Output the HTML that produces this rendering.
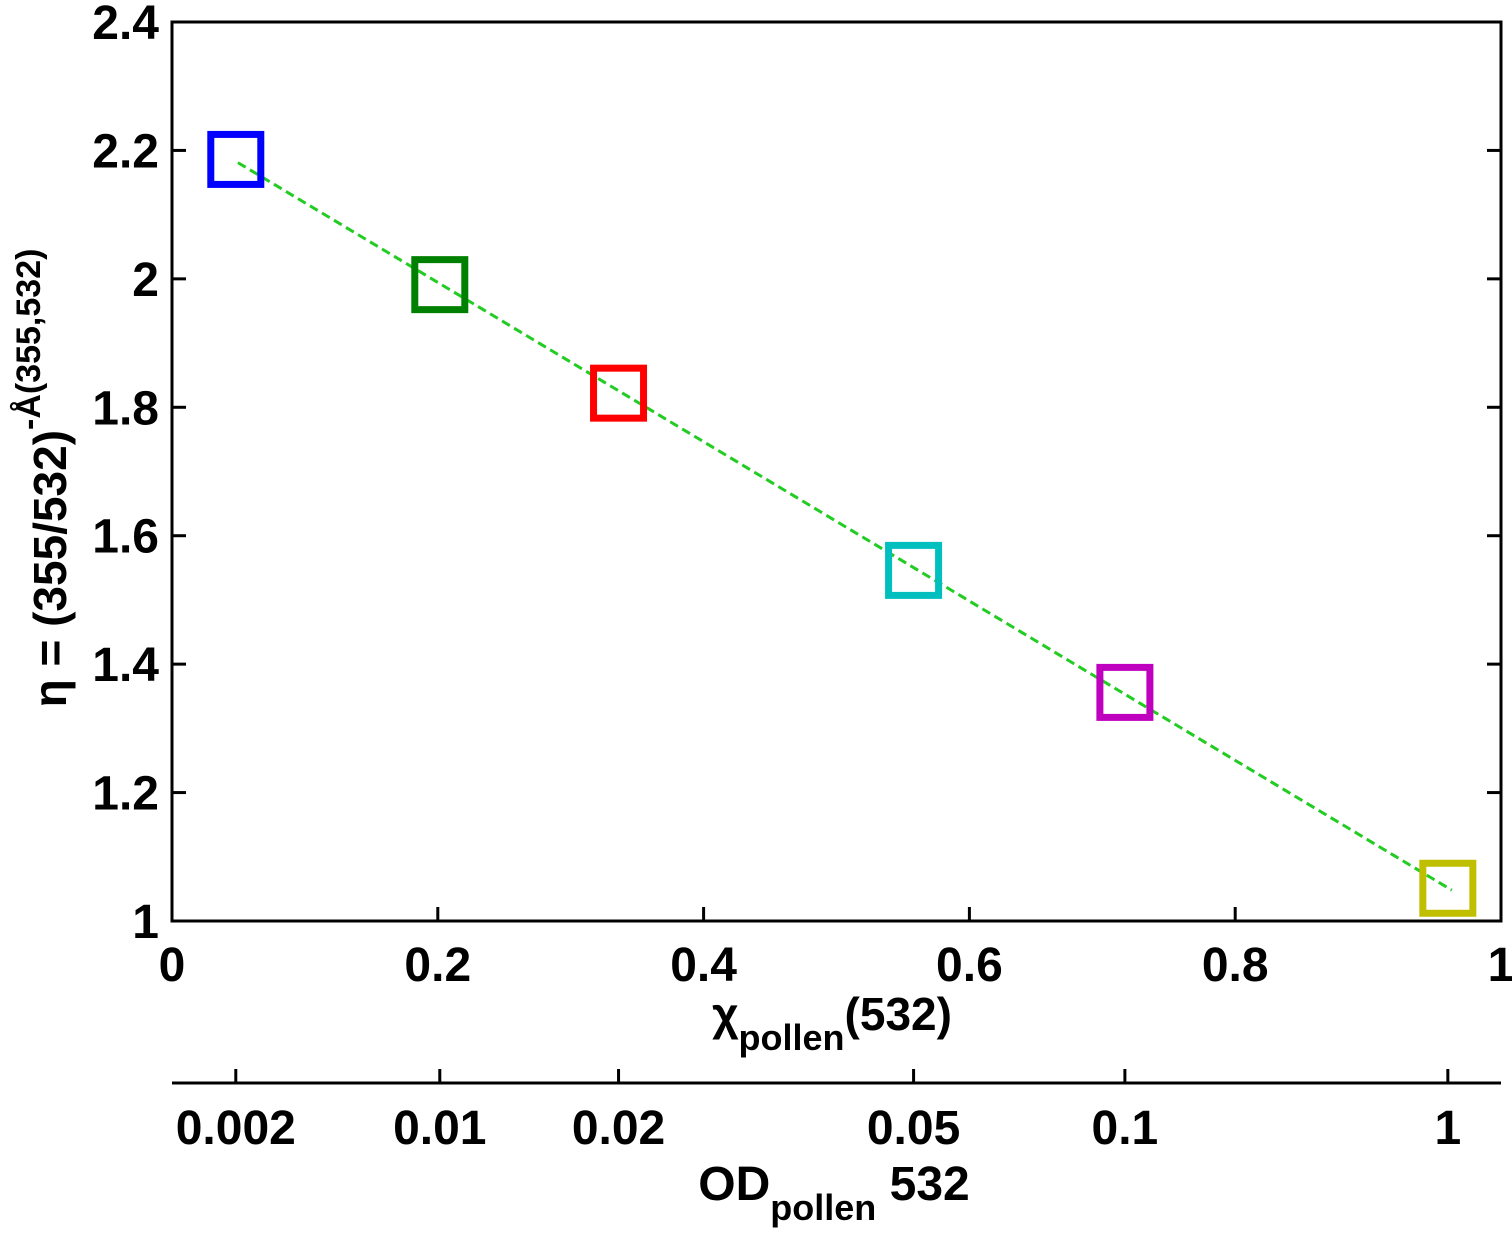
<!DOCTYPE html>
<html><head><meta charset="utf-8"><style>
body{margin:0;background:#fff}
svg{display:block;font-family:"Liberation Sans",sans-serif;font-weight:bold}
</style></head><body>
<svg id="chart" width="1512" height="1234" xmlns="http://www.w3.org/2000/svg">
<g id="axes"></g>
<g id="marks"></g>
<text x="832" y="1030" font-size="46" text-anchor="middle">χ<tspan font-size="36" dy="20">pollen</tspan><tspan dy="-20">(532)</tspan></text>
<text x="834" y="1200" font-size="48" text-anchor="middle">OD<tspan font-size="36" dy="20">pollen</tspan><tspan dy="-20"> 532</tspan></text>
<text transform="translate(66,478) rotate(-90)" font-size="46" text-anchor="middle">η = (355/532)<tspan font-size="34" dy="-26">-Å(355,532)</tspan></text>
</svg>
<script>
const xTicks=[0,0.2,0.4,0.6,0.8,1];
const yTicks=[1,1.2,1.4,1.6,1.8,2,2.2,2.4];
const xLabels=["0","0.2","0.4","0.6","0.8","1"];
const yLabels=["1","1.2","1.4","1.6","1.8","2","2.2","2.4"];
const ptX=[0.048,0.2015,0.336,0.558,0.717,0.960];
const ptY=[2.186,1.991,1.822,1.546,1.356,1.051];
const ptColors=["#0000ff","#008000","#ff0000","#00bfbf","#bf00bf","#bfbf00"];
const odLabels=["0.002","0.01","0.02","0.05","0.1","1"];
const fitX=[0.0496,0.963];
const fitY=[2.181,1.048];
const NS="http://www.w3.org/2000/svg";
const X0=172,X1=1501,Y0=921,Y1=22;
const sx=v=>X0+(v-0)/(1-0)*(X1-X0);
const sy=v=>Y0-(v-1)/(2.4-1)*(Y0-Y1);
const axes=document.getElementById('axes'),marks=document.getElementById('marks');
function mk(tag,at,parent){const e=document.createElementNS(NS,tag);for(const k in at)e.setAttribute(k,at[k]);parent.appendChild(e);return e;}
let r=mk('rect',{x:X0,y:Y1,width:X1-X0,height:Y0-Y1,fill:'none',stroke:'#000','stroke-width':3},axes);


xTicks.forEach((t,i)=>{
 const x=sx(t);
 let l=mk('line',{x1:x,x2:x,y1:Y0,y2:Y0-14,stroke:'#000','stroke-width':3},axes);
 
 
 let tx=mk('text',{x:x,y:981,'font-size':48,'text-anchor':'middle'},axes);tx.textContent=xLabels[i];
 
 
});
yTicks.forEach((t,i)=>{
 const y=sy(t);
 let l=mk('line',{x1:X0,x2:X0+14,y1:y,y2:y,stroke:'#000','stroke-width':3},axes);
 
 
 let l2=mk('line',{x1:X1,x2:X1-14,y1:y,y2:y,stroke:'#000','stroke-width':3},axes);
 
 
 let tx=mk('text',{x:159,y:y+17,'font-size':48,'text-anchor':'end'},axes);tx.textContent=yLabels[i];
 
 
});
let sa=mk('line',{x1:X0,x2:X1,y1:1083,y2:1083,stroke:'#000','stroke-width':3},axes);


ptX.forEach((v,i)=>{
 const x=sx(v);
 let l=mk('line',{x1:x,x2:x,y1:1083,y2:1069,stroke:'#000','stroke-width':3},axes);
 
 
 let tx=mk('text',{x:x,y:1144,'font-size':48,'text-anchor':'middle'},axes);tx.textContent=odLabels[i];
 
 
});
let fl=mk('line',{x1:sx(fitX[0]),y1:sy(fitY[0]),x2:sx(fitX[1]),y2:sy(fitY[1]),stroke:'#22cc22','stroke-width':3,'stroke-dasharray':'9,5'},marks);


ptX.forEach((v,i)=>{
 let s=mk('rect',{x:sx(v)-25,y:sy(ptY[i])-25,width:50,height:50,fill:'none',stroke:ptColors[i],'stroke-width':7},marks);
 
 
});
</script>
</body></html>
